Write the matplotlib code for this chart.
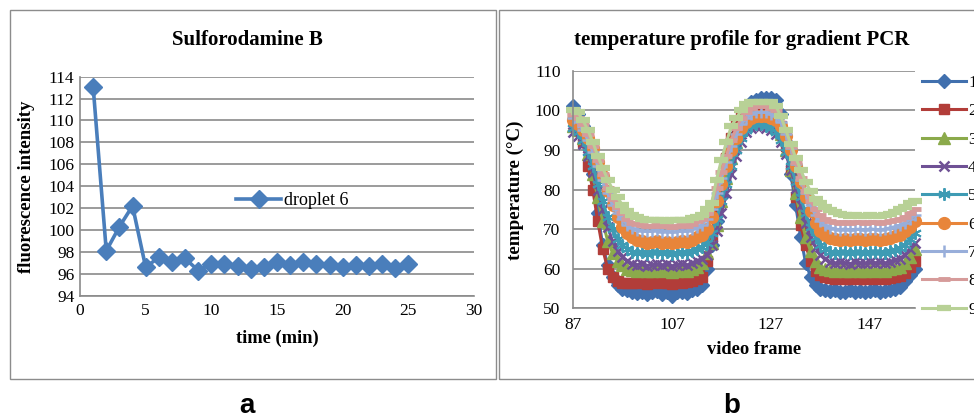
import matplotlib
matplotlib.use("Agg")
import matplotlib.pyplot as plt
from matplotlib.patches import Rectangle

# panel a: droplet fluorescence vs time
time_min = list(range(1, 26))
droplet6 = [113.1, 98.1, 100.3, 102.2, 96.6, 97.5, 97.1, 97.4, 96.3, 96.9,
            96.9, 96.7, 96.4, 96.6, 97.1, 96.8, 97.1, 96.9, 96.8, 96.6,
            96.8, 96.7, 96.9, 96.5, 96.9]

# panel b: temperature per droplet vs video frame (87..156)
frames = [str(f) for f in range(87, 157)]
temp_1 = [101, 99, 96, 91, 84, 74, 66, 61, 58, 56, 55, 54.5,
          54, 53.8, 54.2, 53.5, 54, 54.3, 53.7, 54, 53, 54, 54.2, 53.8, 54.5, 55,
          56, 60, 66, 72, 78, 84, 89, 94, 98, 100.5, 102, 102.5, 103, 103, 103, 102.5,
          99, 92, 84, 76, 68, 61.5, 58, 56, 55, 54.5,
          54.3, 54.5, 54, 54.2, 54.6, 54.1, 54.4, 54, 54.3, 54.5, 54.1, 54.4, 54.6, 55, 55.5,
          57, 58.5, 60]
temp_2 = [99, 96, 92, 86, 80, 72, 65, 60, 58, 57, 56.5, 56.5,
          56.5, 56.3, 56.6, 56.2, 56.5, 56.8, 56.3, 56.5, 56.1, 56.6, 56.4, 56.7, 57, 57.5,
          58, 62, 68, 75, 82, 88, 93, 96.5, 99, 100.5, 101, 101, 101, 100.5, 100, 99,
          96, 91, 85, 78, 71, 66, 62, 59.5, 58.5, 58,
          57.6, 57.4, 57.7, 57.5, 57.3, 57.6, 57.5, 57.4, 57.7, 57.5, 57.6, 57.4, 57.7, 58, 58.2,
          59, 60.5, 62]
temp_3 = [96, 95, 93, 89, 84, 78, 72, 67, 64, 62, 61, 60,
          59.6, 59.4, 59.7, 59.3, 59.5, 59.8, 59.4, 59.6, 59.2, 59.5, 59.7, 59.4, 60, 60.5,
          61.5, 64, 66.5, 71, 77, 83, 88, 92, 95, 96.5, 97.5, 98, 98, 97.5, 97, 96,
          94, 90, 85, 79, 73, 68, 64.5, 62, 60.5, 60,
          59.6, 59.4, 59.7, 59.5, 59.3, 59.6, 59.5, 59.4, 59.7, 59.5, 59.6, 59.4, 59.8, 60.2, 60.5,
          61.5, 63, 65]
temp_4 = [94.5, 93.5, 91.5, 88.5, 84.5, 80, 75, 70.5, 67, 64.5, 63, 62,
          61.2, 61, 61.3, 60.8, 61, 61.2, 60.9, 61.1, 60.7, 61, 61.2, 60.9, 61.4, 62,
          62.5, 63.5, 66, 69.5, 74, 79, 84, 88.5, 92, 94.5, 95.5, 96, 96, 95.5, 95, 94,
          92, 89, 85, 80.5, 76, 71.5, 68, 65.5, 63.5, 62.5,
          61.6, 61.4, 61.7, 61.5, 61.3, 61.6, 61.5, 61.4, 61.7, 61.5, 61.6, 61.4, 61.8, 62.2, 62.5,
          63.5, 65, 66.5]
temp_5 = [95.5, 94.5, 92.5, 89.5, 86, 81.5, 77, 73, 70, 67.5, 66, 65,
          64.2, 64, 64.3, 63.8, 64.1, 64.3, 63.9, 64.1, 63.7, 64, 64.2, 63.9, 64.4, 65,
          65.5, 66.5, 69, 72.5, 77, 81.5, 86, 90, 93, 95, 96, 96.5, 96.5, 96, 95.5, 94.5,
          92.5, 89.5, 86, 82, 78, 74, 70.5, 68, 66, 65,
          64.2, 64, 64.3, 64.1, 63.9, 64.2, 64.1, 64, 64.3, 64.1, 64.2, 64, 64.4, 64.8, 65.2,
          66, 67.5, 69]
temp_6 = [97.5, 96.5, 95, 93, 90.5, 87, 83.5, 79.5, 76, 73, 70.5, 69,
          68, 67.2, 67, 66.6, 66.8, 67, 66.5, 66.8, 66.4, 66.7, 67, 66.8, 67.3, 68,
          68.5, 70, 73, 77, 81.5, 86, 90, 93, 95.5, 97, 98, 98.5, 98.5, 98.5, 98, 97.5,
          96, 93.5, 90, 86, 82, 78, 74.5, 71.5, 69.5, 68.5,
          67.8, 67.5, 67.3, 67.6, 67.2, 67.4, 67.5, 67.2, 67.6, 67.4, 67.3, 67.5, 67.8, 68.2, 68.6,
          69.5, 70.5, 72]
temp_7 = [98, 97, 95, 92.5, 89.5, 86, 82.5, 79, 76, 74, 72.5, 71,
          70.2, 69.8, 69.6, 69.4, 69.5, 69.7, 69.3, 69.5, 69.2, 69.4, 69.6, 69.5, 70, 70.5,
          71, 72.5, 75, 79, 83, 87, 91, 94, 96.5, 98, 99, 99.5, 99.5, 99.5, 99, 98.5,
          97, 94, 90.5, 86.5, 82.5, 79, 76, 73.5, 72, 71,
          70.3, 70, 69.8, 70.1, 69.7, 69.9, 70, 69.7, 70.1, 69.9, 69.8, 70, 70.3, 70.6, 71,
          71.5, 72.5, 73.5]
temp_8 = [99, 98, 96.5, 94, 91, 87.5, 84, 80.5, 77.5, 75.5, 74, 72.5,
          71.6, 71.2, 71, 70.8, 70.9, 71.1, 70.7, 70.9, 70.6, 70.8, 71, 70.9, 71.4, 72,
          72.5, 74, 76.5, 80.5, 84.5, 88.5, 92.5, 95.5, 98, 99.5, 100.5, 101, 101, 101, 100.5, 100,
          98.5, 95, 91, 87, 83, 79.5, 77, 75, 73.5, 72.5,
          72, 71.8, 71.6, 71.9, 71.5, 71.7, 71.8, 71.5, 71.9, 71.7, 71.6, 71.8, 72, 72.3, 72.6,
          73, 74, 75]
temp_9 = [100, 99.5, 97.5, 95, 92, 88.5, 85.5, 82.5, 80, 78, 76, 74.5,
          73.5, 73, 72.5, 72.3, 72.4, 72.2, 72.3, 72.1, 72.4, 72.3, 72.2, 72.4, 72.7, 73,
          73.5, 75, 76.5, 82.5, 87.5, 92, 96, 98, 100, 101.5, 102, 102, 102, 102, 102, 101,
          98.5, 95, 91.5, 88, 85, 82, 79.5, 77.5, 76.5, 75.5,
          74.8, 74.2, 73.8, 73.6, 73.4, 73.5, 73.3, 73.4, 73.5, 73.3, 73.4, 73.5, 73.7, 74.2, 75,
          75.5, 76.5, 77]
series_labels = ["1", "2", "3", "4", "5", "6", "7", "8", "9"]
series_temps = [temp_1, temp_2, temp_3, temp_4, temp_5, temp_6, temp_7, temp_8, temp_9]

colors = ["#4170AE", "#B23D39", "#8BAA4B", "#6F5195", "#3E9BB4",
          "#E8853A", "#98AEDA", "#D69B9A", "#B8D196"]
# (marker, size, edge width)
markers = [("D", 7, 1), ("s", 7.5, 1), ("^", 8.5, 1), ("x", 7.5, 1.8), ((6, 2, 0), 9, 1.4),
           ("o", 8.5, 1), ("+", 9, 1.8), ("_", 9, 3.5), ("_", 10.5, 4.5)]

serif = "Liberation Serif"
grid_c = "#8a8a8a"

fig = plt.figure(figsize=(9.74, 4.16), dpi=100)
W, H = 974, 416


def fx(px):
    return px / W


def fy(py):
    return (H - py) / H


# panel frames
fig.add_artist(Rectangle((fx(10), fy(379)), fx(496) - fx(10), fy(10) - fy(379),
                         transform=fig.transFigure, fill=False, ec="#8c8c8c", lw=1))
fig.add_artist(Rectangle((fx(499), fy(379)), fx(990) - fx(499), fy(10) - fy(379),
                         transform=fig.transFigure, fill=False, ec="#8c8c8c", lw=1))


def style_axes(ax, fs):
    for s in ("top", "right"):
        ax.spines[s].set_visible(False)
    for s in ("left", "bottom"):
        ax.spines[s].set_color(grid_c)
        ax.spines[s].set_linewidth(1.2)
    ax.yaxis.grid(True, color=grid_c, lw=1.2)
    ax.set_axisbelow(True)
    ax.tick_params(length=0, labelsize=fs)
    for lab in ax.get_xticklabels() + ax.get_yticklabels():
        lab.set_fontfamily(serif)


# ---- panel a
ax1 = fig.add_axes([fx(80), fy(295.7), fx(474) - fx(80), fy(76.7) - fy(295.7)])
ax1.plot(time_min, droplet6, color="#4A7EBB", lw=2.6, marker="D", ms=9.5,
         mec="#4A7EBB", label="droplet 6", clip_on=False)
ax1.set_xlim(0, 30)
ax1.set_ylim(94, 114)
ax1.set_xticks(range(0, 31, 5))
ax1.set_yticks(range(94, 115, 2))
style_axes(ax1, 12.5)
ax1.tick_params(axis="x", pad=5)
ax1.tick_params(axis="y", pad=4)
ax1.legend(loc="center left", bbox_to_anchor=(fx(236), fy(201)), bbox_transform=fig.transFigure,
           frameon=False, borderpad=0, borderaxespad=0, handlelength=2.5, handletextpad=0.15,
           prop={"family": serif, "size": 13})
fig.text(fx(247), fy(40), "Sulforodamine B", ha="center", va="center",
         family=serif, weight="bold", size=15)
fig.text(fx(27), fy(187), "fluorescence intensity", ha="center", va="center", rotation=90,
         family=serif, weight="bold", size=13.5)
fig.text(fx(277), fy(338), "time (min)", ha="center", va="center",
         family=serif, weight="bold", size=13.3)

# ---- panel b
ax2 = fig.add_axes([fx(573), fy(308.3), fx(914.5) - fx(573), fy(70.7) - fy(308.3)])
for temps, lab, col, (mk, ms, mew) in zip(series_temps, series_labels, colors, markers):
    ax2.plot(frames, temps, color=col, lw=2.2, marker=mk, ms=ms, mew=mew,
             mec=col, mfc=col, label=lab, clip_on=False)
ax2.set_xlim(0, len(frames) - 1)
ax2.set_ylim(50, 110)
ax2.set_xticks(range(0, len(frames), 20))
ax2.set_yticks(range(50, 111, 10))
style_axes(ax2, 12.5)
ax2.tick_params(axis="x", pad=6)
ax2.tick_params(axis="y", pad=9)
# legend sits at the right edge and is cut off by the figure, as in the source
fig.legend(*ax2.get_legend_handles_labels(), loc="upper left",
           bbox_to_anchor=(fx(922), fy(75)), frameon=False, borderpad=0, borderaxespad=0,
           handlelength=2.55, handletextpad=0.1, labelspacing=0.70,
           prop={"family": serif, "size": 12.5})
fig.text(fx(742), fy(40), "temperature profile for gradient PCR", ha="center", va="center",
         family=serif, weight="bold", size=15)
fig.text(fx(515), fy(190), "temperature (°C)", ha="center", va="center", rotation=90,
         family=serif, weight="bold", size=13.7)
fig.text(fx(754), fy(350), "video frame", ha="center", va="center",
         family=serif, weight="bold", size=13.3)

# panel letters
fig.text(fx(247), fy(413), "a", ha="center", va="baseline",
         family="Liberation Sans", weight="bold", size=20)
fig.text(fx(732), fy(413), "b", ha="center", va="baseline",
         family="Liberation Sans", weight="bold", size=20)

fig.savefig("out.png", dpi=100)
